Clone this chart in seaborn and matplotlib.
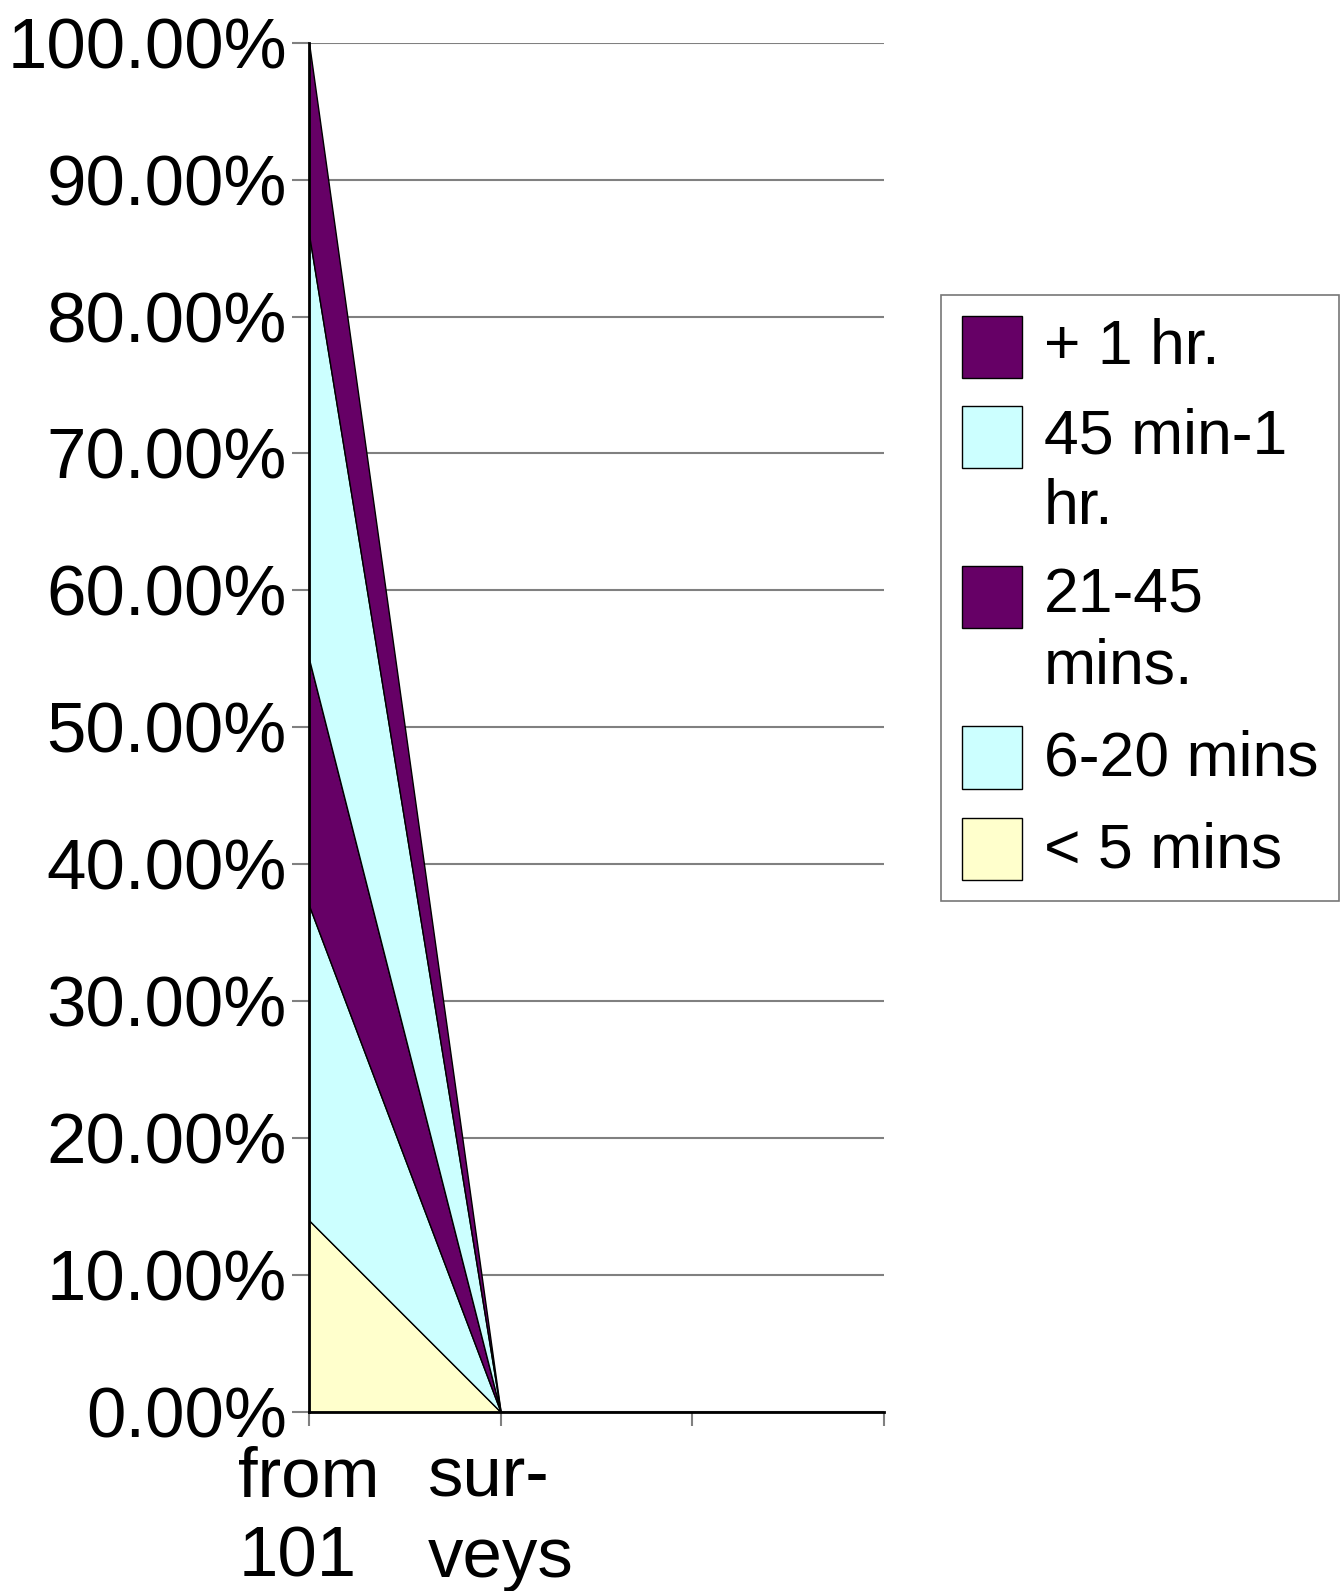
import numpy as np
import pandas as pd
import matplotlib
matplotlib.use("Agg")
import matplotlib.pyplot as plt
import seaborn as sns
from matplotlib.patches import Patch, Rectangle
from matplotlib.legend_handler import HandlerPatch

categories = ["from\n101", "sur-\nveys", "", ""]
series_names = ["< 5 mins", "6-20 mins", "21-45\nmins.", "45 min-1\nhr.", "+ 1 hr."]
under_5 = [14.0, 0.0]
m6_20 = [23.0, 0.0]
m21_45 = [18.0, 0.0]
m45_60 = [31.0, 0.0]
over_1h = [14.0, 0.0]
y_ticks = [0, 10, 20, 30, 40, 50, 60, 70, 80, 90, 100]
colors = ["#FFFFCC", "#CCFFFF", "#660066", "#CCFFFF", "#660066"]

df = pd.DataFrame({n: v for n, v in zip(series_names, [under_5, m6_20, m21_45, m45_60, over_1h])})

sns.set_style("white")
plt.rcParams["font.family"] = ["Liberation Sans", "DejaVu Sans"]
plt.rcParams["text.color"] = "black"
plt.rcParams["xtick.labelcolor"] = "black"
plt.rcParams["ytick.labelcolor"] = "black"

fig = plt.figure(figsize=(13.44, 15.91), dpi=100)
ax = fig.add_axes([309/1344, 1-1412/1591, (884-309)/1344, (1412-42.7)/1591])

x = np.arange(len(df))
ax.stackplot(x, *[df[c].values for c in series_names], colors=colors,
             edgecolor="black", linewidth=1.0)

ax.set_xlim(0, 3)
ax.set_ylim(0, 100)
ax.set_yticks(y_ticks)
ax.set_yticklabels([f"{v:.2f}%" for v in y_ticks], fontsize=51)
ax.set_xticks(range(len(categories)))
ax.set_xticklabels(categories, fontsize=51, linespacing=1.28, multialignment="left")
ax.yaxis.grid(True, color="#808080", linewidth=1.5)
ax.set_axisbelow(True)
for s in ["top", "right"]:
    ax.spines[s].set_visible(False)
for s in ["left", "bottom"]:
    ax.spines[s].set_color("black")
    ax.spines[s].set_linewidth(2)
ax.tick_params(axis="y", direction="out", length=12, width=1.5, color="#808080", pad=4, left=True)
ax.tick_params(axis="x", direction="out", length=10, width=1.5, color="#808080", pad=14, bottom=True)

LEG_FS = 45
LEG_LS = 1.25


class TopAlignHandler(HandlerPatch):
    def __init__(self, nlines, **kw):
        super().__init__(**kw)
        self.nlines = nlines

    def create_artists(self, legend, orig_handle, xdescent, ydescent, width, height, fontsize, trans):
        shift = (self.nlines - 1) * fontsize * 1.14 * LEG_LS / 2.0 * 0.9
        top = -ydescent + shift + height
        h_new = height * 1.135
        p = Rectangle(xy=(-xdescent, top - h_new), width=width, height=h_new)
        self.update_prop(p, orig_handle, legend)
        p.set_transform(trans)
        return [p]


handles = [Patch(facecolor=colors[i], edgecolor="black", linewidth=1, label=series_names[i])
           for i in reversed(range(len(series_names)))]
hmap = {h: TopAlignHandler(h.get_label().count("\n") + 1) for h in handles}
leg = fig.legend(handles=handles, handler_map=hmap, loc="upper left", bbox_to_anchor=(941/1344, 1-295/1591),
                 bbox_transform=fig.transFigure, fontsize=LEG_FS, frameon=True, fancybox=False,
                 borderaxespad=0, handlelength=0.97, handleheight=0.97, handletextpad=0.35,
                 labelspacing=0.48, borderpad=0.33)
leg.get_frame().set_edgecolor("#555555")
leg.get_frame().set_linewidth(1.2)
for t in leg.get_texts():
    t.set_linespacing(LEG_LS)

fig.savefig("out.png", dpi=100)
